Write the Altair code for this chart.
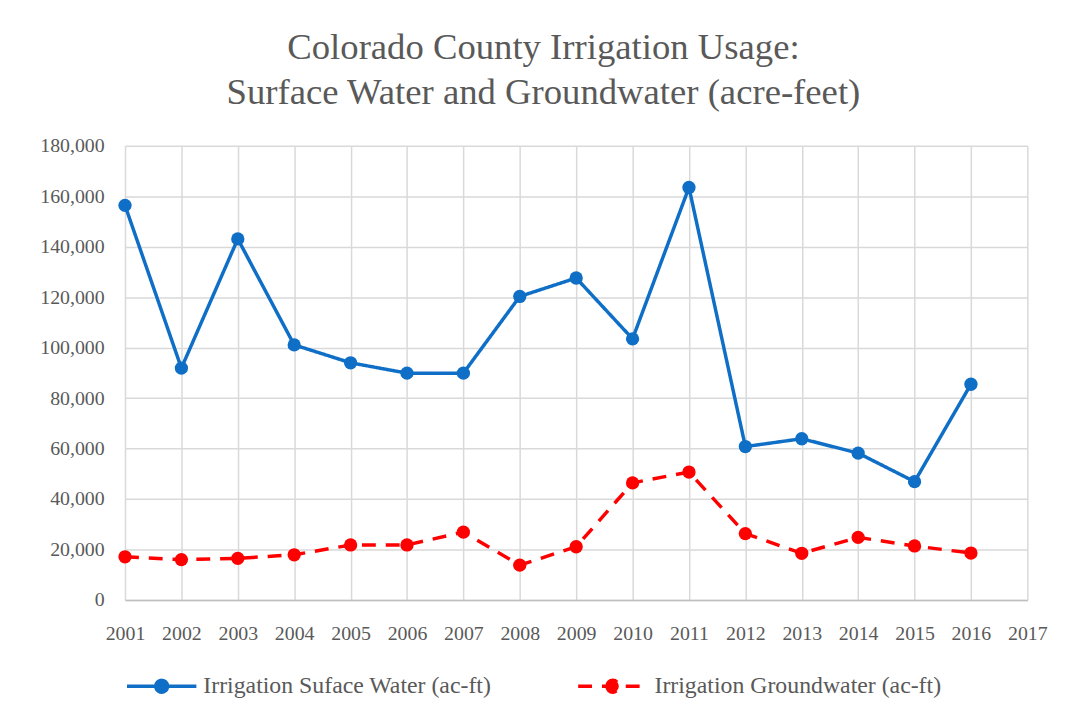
import altair as alt
import pandas as pd

years = [str(y) for y in range(2001, 2018)]
data_years = [str(y) for y in range(2001, 2017)]
surface = [156400, 91900, 143100, 101100, 94000, 89900, 89900, 120300,
           127600, 103500, 163500, 60800, 63900, 58200, 46900, 85500]
ground = [17100, 16000, 16500, 17900, 21800, 21800, 26900, 13800,
          21100, 46400, 50700, 26300, 18500, 24800, 21400, 18600]
series = ["Irrigation Suface Water (ac-ft)", "Irrigation Groundwater (ac-ft)"]
colors = ["#0F6FC6", "#FF0000"]

rows = []
for y, s, g in zip(data_years, surface, ground):
    rows.append({"year": y, "value": s, "series": series[0]})
    rows.append({"year": y, "value": g, "series": series[1]})
df = pd.DataFrame(rows)

FONT = "Liberation Serif"
GRAY = "#595959"
sym = "M-1,0L1,0M-0.17,0A0.17,0.17,0,1,1,0.17,0A0.17,0.17,0,1,1,-0.17,0Z"

legend = alt.Legend(title=None, orient="bottom", direction="horizontal",
                    symbolType=sym, symbolSize=4900, symbolStrokeWidth=3.5,
                    labelFont=FONT, labelFontSize=24, labelColor=GRAY, labelLimit=500,
                    columnPadding=80, labelOffset=5, offset=6)

x = alt.X("year:O", scale=alt.Scale(domain=years, padding=0),
          axis=alt.Axis(title=None, labelAngle=0, grid=True, ticks=False,
                        labelPadding=24, domainColor="#BFBFBF", domainWidth=1.5))
y = alt.Y("value:Q", scale=alt.Scale(domain=[0, 180000]),
          axis=alt.Axis(title=None, format=",d", values=list(range(0, 180001, 20000)),
                        domain=False, ticks=False, labelPadding=21))
color = alt.Color("series:N", scale=alt.Scale(domain=series, range=colors), legend=legend)
dash = alt.StrokeDash("series:N", scale=alt.Scale(domain=series, range=[[1, 0], [14, 10]]),
                      legend=legend)

base = alt.Chart(df)
lines = base.mark_line(strokeWidth=3.5).encode(x=x, y=y, color=color, strokeDash=dash)
points = base.mark_point(filled=True, size=180, opacity=1).encode(x=x, y=y, color=color)

chart = alt.layer(lines, points).properties(
    width=910, height=458,
    padding={"left": 32, "top": 18, "right": 20, "bottom": 10},
    title=alt.Title(["Colorado County Irrigation Usage:",
                     "Surface Water and Groundwater (acre-feet)"],
                    font=FONT, fontSize=37, fontWeight="normal", color=GRAY,
                    lineHeight=46, offset=24, frame="bounds", anchor="middle"),
).configure_axis(
    labelFont=FONT, labelFontSize=20, labelColor=GRAY,
    gridColor="#D9D9D9", gridWidth=1.5,
).configure_view(stroke=None)

chart.save("out.html", embed_options={"renderer": "svg", "actions": False})
